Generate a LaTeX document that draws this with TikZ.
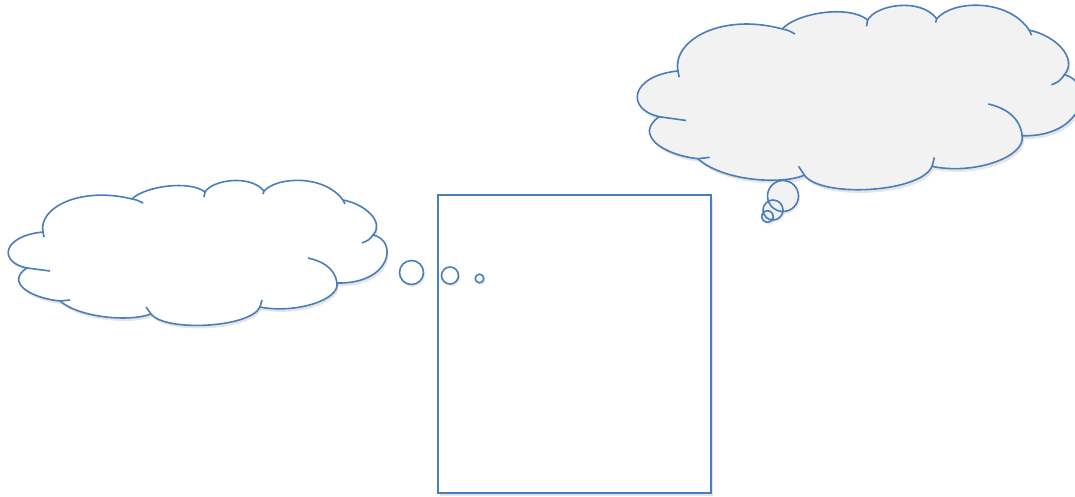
\documentclass[tikz,border=0pt]{standalone}
\usepackage{tikz}

\definecolor{cloudblue}{HTML}{4A7EBB}
\definecolor{cloudgray}{HTML}{F2F2F2}

% cloud outline, in pixel units of the left cloud
\newcommand{\cloudoutline}{(43,232) .. controls (38,208) and (80,186) .. (132,199)
	.. controls (145,186) and (190,180) .. (205,192)
	.. controls (212,180) and (250,174) .. (264,191)
	.. controls (278,176) and (325,175) .. (343,200)
	.. controls (365,204) and (385,222) .. (373,235)
	.. controls (398,240) and (392,284) .. (337,283)
	.. controls (340,300) and (295,314) .. (260,307)
	.. controls (250,328) and (165,332) .. (151,314)
	.. controls (130,322) and (80,318) .. (60,301)
	.. controls (30,298) and (5,282) .. (27,268)
	.. controls (-2,262) and (2,236) .. (43,232) -- cycle}
% inner ends of the puffs
\newcommand{\cloudstubs}{(43,232) .. controls (44,234) .. (44,237)
	(132,199) .. controls (137,200) .. (143,203)
	(205,192) .. controls (204.5,194) .. (204,197)
	(264,191) .. controls (263.5,192.5) .. (263,194)
	(343,200) .. controls (344,202) .. (345,204)
	(373,235) .. controls (369,240) .. (362,243)
	(337,283) .. controls (335,268) and (322,261) .. (308,258)
	(260,307) .. controls (261,303) .. (262,300)
	(151,314) .. controls (148,311) .. (146,307)
	(60,301) .. controls (65,300) .. (70,300)
	(27,268) .. controls (38,270) .. (50,271)}

\begin{document}
\begin{tikzpicture}[x=1pt, y=-1pt, line width=1.6pt,
		outline/.style={draw=cloudblue},
		shadowcopy/.style={fill=black, fill opacity=0.1, draw=none}]
	% Canvas
	\useasboundingbox (0,0) rectangle (1075,496);
	\clip (0,0) rectangle (1075,496);
	% Box
	\fill[black, opacity=0.1] (440,198) rectangle (713,496);
	\filldraw[outline, fill=white] (438,195) rectangle (711,493);
	% Left cloud (white)
	\begin{scope}[shift={(1.5,3)}]
		\path[shadowcopy] \cloudoutline;
	\end{scope}
	\filldraw[outline, fill=white] \cloudoutline;
	\draw[outline] \cloudstubs;
	% Left thought bubbles
	\foreach \cx/\cy/\r in {411.5/272.5/12, 450/275.5/8.5, 479.5/278.5/4.3}{
		\fill[black, opacity=0.08] (\cx+1.5,\cy+2.5) circle (\r);
		\filldraw[outline, fill=white] (\cx,\cy) circle (\r);
	}
	% Right cloud (grey)
	\begin{scope}[shift={(627.6,-224.2)}, xscale=1.171, yscale=1.272]
		\begin{scope}[shift={(1.5,2.5)}]
			\path[shadowcopy] \cloudoutline;
		\end{scope}
		\filldraw[outline, fill=cloudgray] \cloudoutline;
		\draw[outline] \cloudstubs;
	\end{scope}
	% Right thought bubbles
	\foreach \cx/\cy/\r in {783/196/15.5, 773/210/10, 767.5/216.5/5.7}{
		\fill[black, opacity=0.08] (\cx+1.5,\cy+2.5) circle (\r);
		\fill[cloudgray] (\cx,\cy) circle (\r);
	}
	\foreach \cx/\cy/\r in {783/196/15.5, 773/210/10, 767.5/216.5/5.7}
		\draw[outline] (\cx,\cy) circle (\r);
\end{tikzpicture}
\end{document}
